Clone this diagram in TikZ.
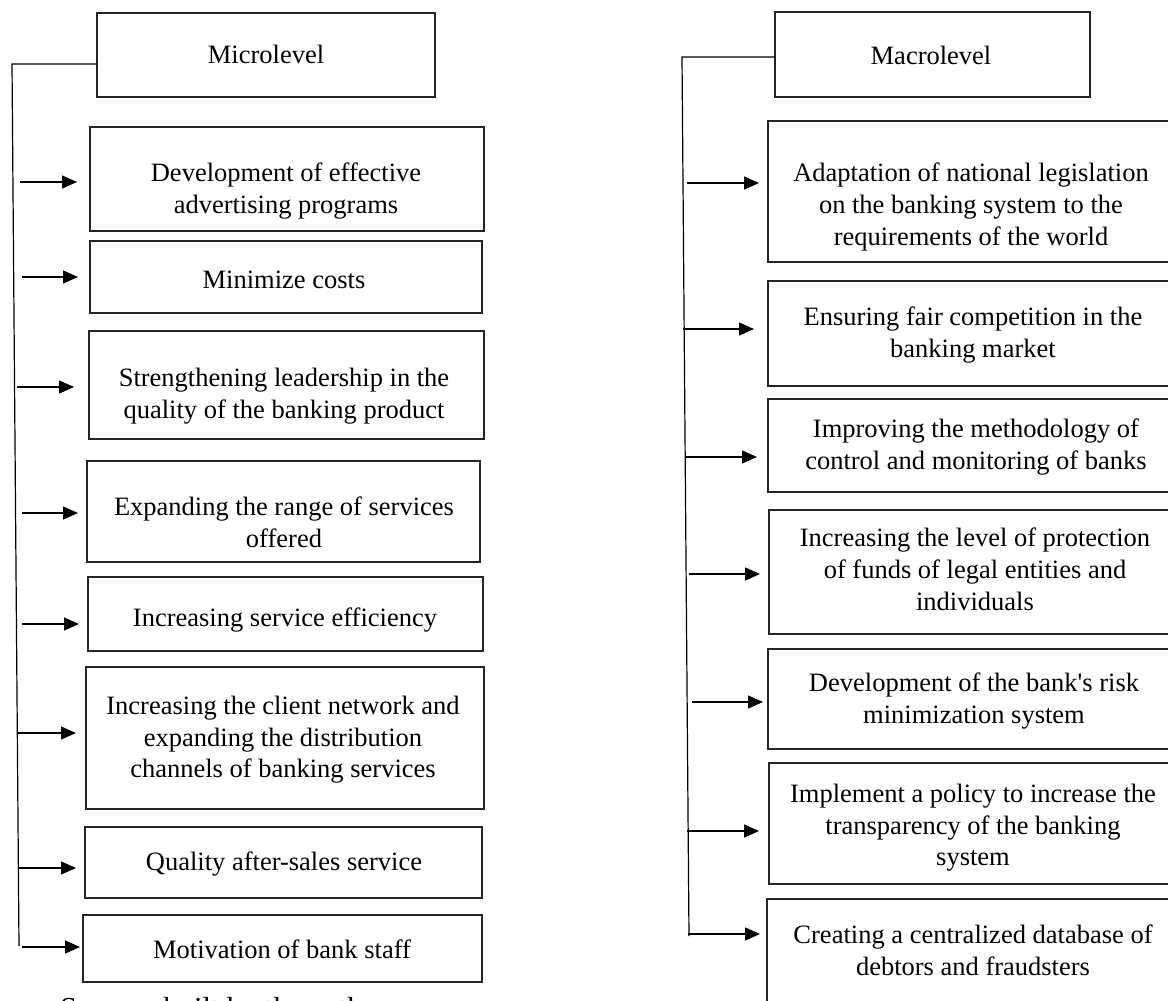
\documentclass[tikz,border=0pt]{standalone}
\usepackage{fontspec}
\setmainfont{Liberation Serif}[Ligatures={TeXOff,NoCommon}]
\usetikzlibrary{arrows.meta}

% box given by its corners (x1,y1) and (x2,y2)
\newcommand\levelbox[5]{%
  \pgfmathsetmacro\bw{#4-#2}\pgfmathsetmacro\bh{#5-#3}%
  \pgfmathsetmacro\bcx{(#2+#4)/2}\pgfmathsetmacro\bcy{(#3+#5)/2}%
  \node[box, minimum width=\bw pt, minimum height=\bh pt] (#1) at (\bcx,\bcy) {};}

\begin{document}
\begin{tikzpicture}[x=1pt, y=-1pt,
  box/.style={draw=black!85, line width=1.1pt, inner sep=0pt, outer sep=0pt},
  txt/.style={font=\fontsize{26.5}{31.6}\selectfont, align=center, inner sep=0pt, anchor=north},
  trunk/.style={draw=black, line width=1.2pt},
  arr/.style={draw=black, line width=1.2pt, -{Triangle[length=15pt, width=13pt]}}]

\useasboundingbox (0,0) rectangle (1168,1001);

% ---------- micro level ----------
\levelbox{L0}{97}{13}{435}{97}
\levelbox{L1}{90}{127}{484}{231}
\levelbox{L2}{90}{241}{482}{313}
\levelbox{L3}{89}{331}{484}{439}
\levelbox{L4}{87}{461}{480}{562}
\levelbox{L5}{88}{577}{483}{651}
\levelbox{L6}{86}{667}{484}{809}
\levelbox{L7}{85}{827}{482}{898}
\levelbox{L8}{83}{915}{482}{982}

\node[txt] (L0t) at (266,45) {Microlevel};
\node[txt] (L1t) at (286,163) {Development of effective\\advertising programs};
\node[txt] (L2t) at (284,271) {Minimize costs};
\node[txt] (L3t) at (284,368) {Strengthening leadership in the\\quality of the banking product};
\node[txt] (L4t) at (284,497) {Expanding the range of services\\offered};
\node[txt] (L5t) at (285,608) {Increasing service efficiency};
\node[txt] (L6t) at (283,696) {Increasing the client network and\\expanding the distribution\\channels of banking services};
\node[txt] (L7t) at (284,852) {Quality after-sales service};
\node[txt] (L8t) at (282,940) {Motivation of bank staff};

\coordinate (lt) at (12,64);
\coordinate (lb) at (19,946);
\draw[trunk] (lb) -- (lt) -- (lt -| L0.west);

\coordinate (a1) at (20,182);
\coordinate (a2) at (22,277);
\coordinate (a3) at (17,387);
\coordinate (a4) at (22,513);
\coordinate (a5) at (22,624);
\coordinate (a6) at (18,733);
\coordinate (a7) at (19,868);
\coordinate (a8) at (22,947);
\draw[arr, shorten >=13pt] (a1) -- (a1 -| L1.west);
\draw[arr, shorten >=12pt] (a2) -- (a2 -| L2.west);
\draw[arr, shorten >=15pt] (a3) -- (a3 -| L3.west);
\draw[arr, shorten >=9pt]  (a4) -- (a4 -| L4.west);
\draw[arr, shorten >=9pt]  (a5) -- (a5 -| L5.west);
\draw[arr, shorten >=10pt] (a6) -- (a6 -| L6.west);
\draw[arr, shorten >=9pt]  (a7) -- (a7 -| L7.west);
\draw[arr, shorten >=3pt]  (a8) -- (a8 -| L8.west);

% ---------- macro level ----------
\levelbox{R0}{775}{12}{1090}{97}
\levelbox{R1}{768}{121}{1176}{262}
\levelbox{R2}{768}{281}{1176}{386}
\levelbox{R3}{768}{399}{1176}{492}
\levelbox{R4}{769}{510}{1176}{634}
\levelbox{R5}{768}{649}{1176}{749}
\levelbox{R6}{769}{763}{1176}{884}
\levelbox{R7}{767}{899}{1176}{1012}

\node[txt] (R0t) at (931,46) {Macrolevel};
\node[txt] (R1t) at (971,163) {Adaptation of national legislation\\on the banking system to the\\requirements of the world};
\node[txt] (R2t) at (973,307) {Ensuring fair competition in the\\banking market};
\node[txt] (R3t) at (976,419) {Improving the methodology of\\control and monitoring of banks};
\node[txt] (R4t) at (975,528) {Increasing the level of protection\\of funds of legal entities and\\individuals};
\node[txt] (R5t) at (974,673) {Development of the bank's risk\\minimization system};
\node[txt] (R6t) at (973,784) {Implement a policy to increase the\\transparency of the banking\\system};
\node[txt] (R7t) at (973,925) {Creating a centralized database of\\debtors and fraudsters};

\coordinate (rt) at (682,57);
\coordinate (rb) at (689,936);
\draw[trunk] (rb) -- (rt) -- (rt -| R0.west);

\coordinate (b1) at (687,183);
\coordinate (b2) at (683,329);
\coordinate (b3) at (685,457);
\coordinate (b4) at (689,574);
\coordinate (b5) at (692,702);
\coordinate (b6) at (687,831);
\coordinate (b7) at (688,934);
\draw[arr, shorten >=9pt]  (b1) -- (b1 -| R1.west);
\draw[arr, shorten >=14pt] (b2) -- (b2 -| R2.west);
\draw[arr, shorten >=11pt] (b3) -- (b3 -| R3.west);
\draw[arr, shorten >=9pt]  (b4) -- (b4 -| R4.west);
\draw[arr, shorten >=5pt]  (b5) -- (b5 -| R5.west);
\draw[arr, shorten >=10pt] (b6) -- (b6 -| R6.west);
\draw[arr, shorten >=7pt]  (b7) -- (b7 -| R7.west);

% ---------- source line, running off the lower edge ----------
\node[font=\fontsize{30.5}{36}\selectfont, inner sep=0pt, anchor=base west] (src) at (60,1018) {Source: built by the author};

\end{tikzpicture}
\end{document}
